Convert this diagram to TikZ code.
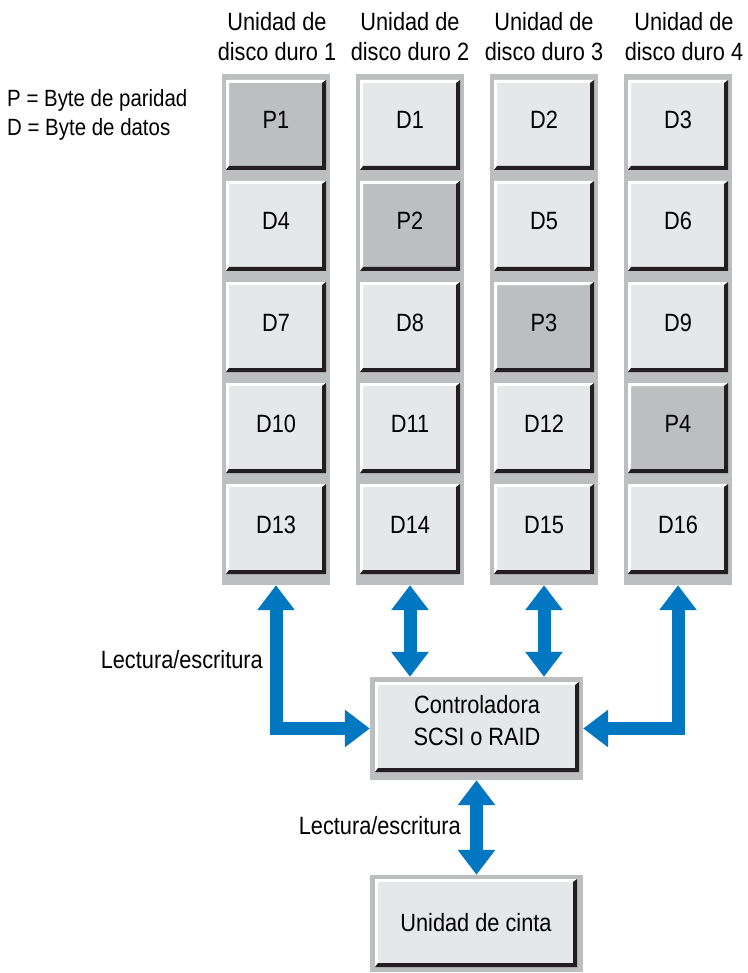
\documentclass[tikz,border=0pt]{standalone}
\usepackage{fontspec}
\setmainfont[FakeStretch=0.87]{Liberation Sans}
\usetikzlibrary{arrows.meta}
\definecolor{frameg}{HTML}{BCBEC0}
\definecolor{boxg}{HTML}{E6E7E8}
\definecolor{parg}{HTML}{BCBEC0}
\definecolor{edgec}{HTML}{231F20}
\definecolor{arrowblue}{HTML}{0077C0}
\tikzset{
  bevel/.style={path picture={
    \path (path picture bounding box.north west) coordinate (bnw)
          (path picture bounding box.south east) coordinate (bse);
    \fill[white] (bnw) -- (bnw -| bse) -- ([shift={(-4pt,-3pt)}]bnw -| bse)
      -- ([shift={(3pt,-3pt)}]bnw) -- ([shift={(3pt,4pt)}]bse -| bnw) -- (bse -| bnw) -- cycle;
    \fill[edgec] (bnw -| bse) -- (bse) -- (bse -| bnw) -- ([shift={(3pt,4pt)}]bse -| bnw)
      -- ([shift={(-4pt,4pt)}]bse) -- ([shift={(-4pt,-3pt)}]bnw -| bse) -- cycle;
  }},
  txt/.style={font=\fontsize{25}{30}\selectfont, inner sep=0pt},
  cell/.style={rectangle, inner sep=0pt, minimum width=100pt, minimum height=90pt,
    fill=boxg, bevel, txt, text height=18pt, text depth=10pt},
  pcell/.style={cell, fill=parg},
  plainbox/.style={rectangle, inner sep=0pt, fill=boxg, bevel},
  colbg/.style={rectangle, inner sep=0pt, minimum width=108pt, minimum height=511pt, fill=frameg},
  framebg/.style={rectangle, inner sep=0pt, fill=frameg},
  dblk/.style={draw=arrowblue, line width=13pt, line join=miter, {Triangle[width=36pt,length=25pt]}-{Triangle[width=36pt,length=25pt]}},
}
\begin{document}
\begin{tikzpicture}[x=1pt,y=-1pt]
\useasboundingbox (0,0) rectangle (747,973);
\fill[white] (0,0) rectangle (747,973);

% headers
\node[txt, align=center] (h1) at (277,37) {Unidad de\\disco duro 1};
\node[txt, align=center] (h2) at (410,37) {Unidad de\\disco duro 2};
\node[txt, align=center] (h3) at (544,37) {Unidad de\\disco duro 3};
\node[txt, align=center] (h4) at (684,37) {Unidad de\\disco duro 4};

% legend
\node[txt, anchor=west, font=\fontsize{23.5}{28}\selectfont] (leg1) at (7,100) {P = Byte de paridad};
\node[txt, anchor=west, font=\fontsize{23.5}{28}\selectfont] (leg2) at (7,129) {D = Byte de datos};

% column backgrounds
\node[colbg] (col1) at (276,329.5) {};
\node[colbg] (col2) at (410,329.5) {};
\node[colbg] (col3) at (544,329.5) {};
\node[colbg] (col4) at (678,329.5) {};

% cells
\node[pcell] (p1)  at (276,125) {P1};
\node[cell]  (d1)  at (410,125) {D1};
\node[cell]  (d2)  at (544,125) {D2};
\node[cell]  (d3)  at (678,125) {D3};
\node[cell]  (d4)  at (276,226) {D4};
\node[pcell] (p2)  at (410,226) {P2};
\node[cell]  (d5)  at (544,226) {D5};
\node[cell]  (d6)  at (678,226) {D6};
\node[cell]  (d7)  at (276,327) {D7};
\node[cell]  (d8)  at (410,327) {D8};
\node[pcell] (p3)  at (544,327) {P3};
\node[cell]  (d9)  at (678,327) {D9};
\node[cell]  (d10) at (276,428) {D10};
\node[cell]  (d11) at (410,428) {D11};
\node[cell]  (d12) at (544,428) {D12};
\node[pcell] (p4)  at (678,428) {P4};
\node[cell]  (d13) at (276,529) {D13};
\node[cell]  (d14) at (410,529) {D14};
\node[cell]  (d15) at (544,529) {D15};
\node[cell]  (d16) at (678,529) {D16};

% controller
\node[framebg, minimum width=213pt, minimum height=103pt] (ctrlf) at (476.5,728.5) {};
\node[plainbox, minimum width=204pt, minimum height=90pt] (ctrl) at (477,727) {};
\node[txt, align=center, font=\fontsize{25}{32}\selectfont] (ctrltxt) at (477,721) {Controladora\\SCSI o RAID};

% tape
\node[framebg, minimum width=213pt, minimum height=97pt] (tapef) at (476.5,923.5) {};
\node[plainbox, minimum width=202pt, minimum height=88pt, txt] (tape) at (476,923) {Unidad de cinta};

% arrows
\draw[dblk] (col1.south) |- (ctrlf.west);
\draw[dblk] (col2.south) -- (col2.south |- ctrlf.north);
\draw[dblk] (col3.south) -- (col3.south |- ctrlf.north);
\draw[dblk] (col4.south) |- (ctrlf.east);
\draw[dblk] (ctrlf.south) -- (tapef.north);

% labels
\node[txt, anchor=east] (lab1) at (263,660) {Lectura/escritura};
\node[txt, anchor=east] (lab2) at (461,826) {Lectura/escritura};
\end{tikzpicture}
\end{document}
